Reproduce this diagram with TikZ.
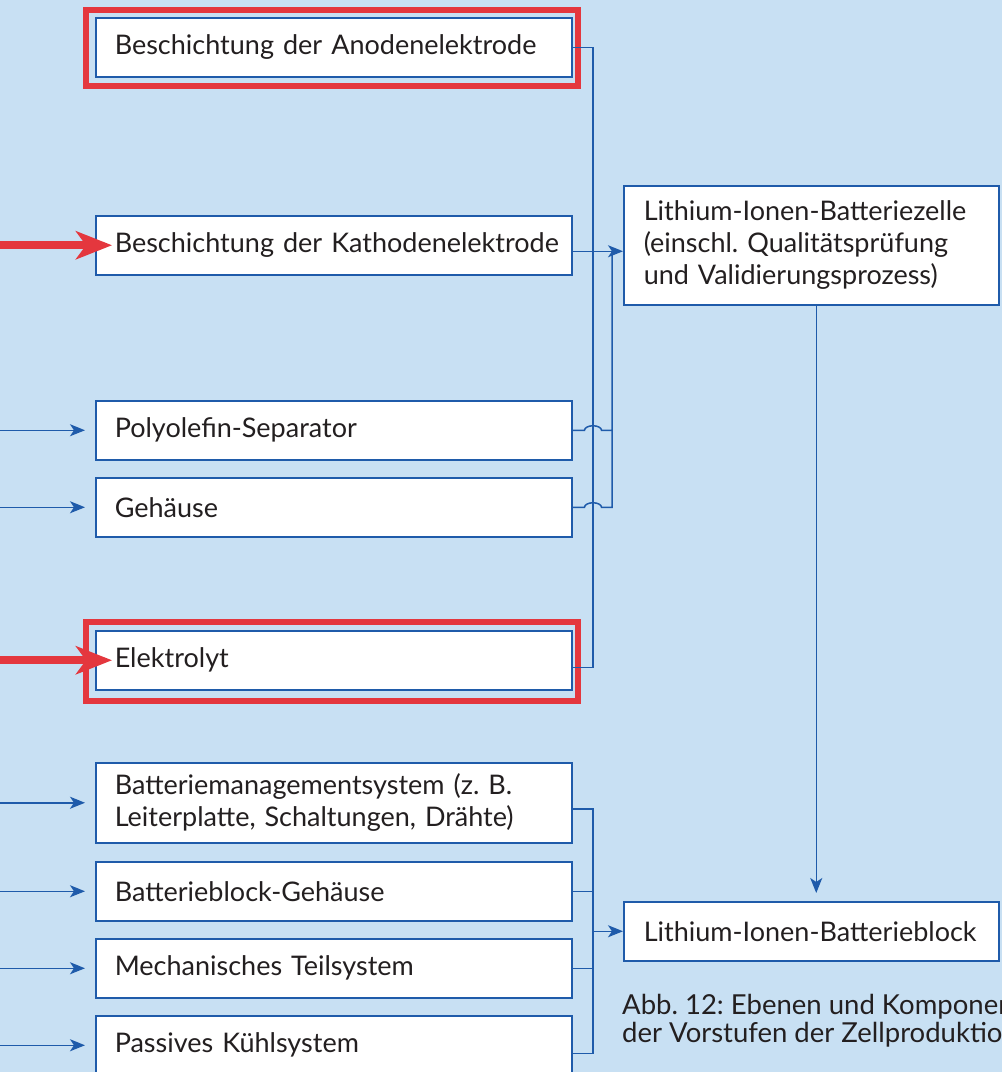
\documentclass[tikz,border=0pt]{standalone}
\usepackage{fontspec}
\setmainfont{Lato}
\usetikzlibrary{arrows.meta}
\frenchspacing

\definecolor{hintergrund}{HTML}{C8E0F3}
\definecolor{linie}{HTML}{1F5BAA}
\definecolor{rot}{HTML}{E4373E}
\definecolor{schrift}{HTML}{231F20}

\tikzset{
  box/.style={draw=linie, fill=white, line width=1.5pt, anchor=north west,
    minimum height=59pt, text width=438pt, inner xsep=19pt, align=left,
    text=schrift, font=\fontsize{27}{32}\selectfont},
  zellbox/.style={box, text width=335pt, inner xsep=20pt},
  rahmen/.style={draw=rot, line width=6pt},
  leitung/.style={draw=linie, line width=1.5pt},
  zufuhr/.style={leitung, -{Stealth[length=15pt,width=12pt,inset=4pt]}},
  fokus/.style={draw=rot, line width=8pt, -{Stealth[length=36pt,width=28pt,inset=10pt]}}
}

\begin{document}
\begin{tikzpicture}[x=1pt,y=-1pt]
  \useasboundingbox[fill=hintergrund] (0,0) rectangle (1002,1072);
  \clip (0,0) rectangle (1002,1072);

  % Vorstufen der Zelle
  \node[box] (anode) at (95,17) {Beschichtung der Anodenelektrode};
  \node[box] (kathode) at (95,215) {\mbox{Beschichtung der Kathodenelektrode}};
  \node[box] (separator) at (95,400) {Polyolefin-Separator};
  \node[box] (gehaeuse) at (95,477) {Gehäuse};
  \node[box] (elektrolyt) at (95,630) {Elektrolyt};

  % Vorstufen des Blocks
  \node[box, minimum height=80pt] (bms) at (95,762) {Batteriemanagementsystem (z. B.\\Leiterplatte, Schaltungen, Drähte)};
  \node[box] (blockgehaeuse) at (95,861) {Batterieblock-Gehäuse};
  \node[box] (mechanik) at (95,938) {Mechanisches Teilsystem};
  \node[box] (kuehlung) at (95,1015) {Passives Kühlsystem};

  % Zelle und Block
  \node[zellbox, minimum height=119pt] (zelle) at (623,185) {Lithium-Ionen-Batteriezelle\\(einschl. Qualitätsprüfung\\und Validierungsprozess)};
  \node[zellbox] (block) at (623,901) {Lithium-Ionen-Batterieblock};

  \node[anchor=north west, align=left, inner sep=0pt, text=schrift,
    font=\fontsize{27.5}{28}\selectfont] (caption) at (622,994)
    {Abb. 12: Ebenen und Komponenten\\der Vorstufen der Zellproduktion};

  % rote Markierungen
  \draw[rahmen] ([xshift=-9pt,yshift=7pt]anode.north west) rectangle ([xshift=5pt,yshift=-8pt]anode.south east);
  \draw[rahmen] ([xshift=-9pt,yshift=8pt]elektrolyt.north west) rectangle ([xshift=5pt,yshift=-10pt]elektrolyt.south east);

  % Sammelleitungen
  \coordinate (links) at (0,0);
  \coordinate (bus) at (593,0);
  \coordinate (bus2) at (612,0);
  \coordinate (k) at ([yshift=-6pt]kathode.east);
  \coordinate (e) at ([yshift=-7pt]elektrolyt.east);

  \draw[leitung] (anode.east) -| (bus |- e) -- (e);
  \draw[zufuhr] (k) -- (k -| zelle.west);
  \draw[leitung] (separator.east) -- ([xshift=-8.5pt]bus |- separator.east)
    arc[start angle=180, end angle=0, x radius=8.5pt, y radius=4.5pt]
    -- (bus2 |- separator.east) -- (bus2 |- k);
  \draw[leitung] (gehaeuse.east) -- ([xshift=-8.5pt]bus |- gehaeuse.east)
    arc[start angle=180, end angle=0, x radius=8.5pt, y radius=4.5pt]
    -- (bus2 |- gehaeuse.east) -- (bus2 |- separator.east);

  \coordinate (b) at ([yshift=-6pt]bms.east);
  \coordinate (p) at ([yshift=-8pt]kuehlung.east);
  \draw[leitung] (b) -| (bus |- p) -- (p);
  \draw[leitung] (blockgehaeuse.east) -- (bus |- blockgehaeuse.east);
  \draw[leitung] (mechanik.east) -- (bus |- mechanik.east);
  \draw[zufuhr] (bus |- block.west) -- (block.west);

  \draw[zufuhr, shorten >=8pt] ([xshift=5pt]zelle.south) -- ([xshift=5pt]block.north);

  % Zufuhr von links
  \foreach \ziel in {separator, gehaeuse, bms, blockgehaeuse, mechanik, kuehlung}
    \draw[zufuhr, shorten >=10pt] (links |- \ziel.west) -- (\ziel.west);
  \draw[fokus, shorten >=-17pt] (links |- kathode.west) -- (kathode.west);
  \draw[fokus, shorten >=-17pt] (links |- elektrolyt.west) -- (elektrolyt.west);
\end{tikzpicture}
\end{document}
